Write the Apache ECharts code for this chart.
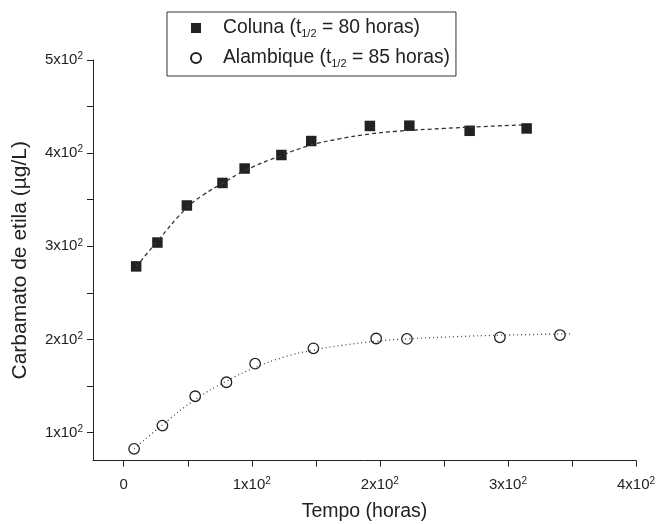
<!DOCTYPE html>
<html>
<head>
<meta charset="utf-8">
<script src="https://cdn.jsdelivr.net/npm/echarts@6/dist/echarts.min.js"></script>
<style>
  html, body { margin: 0; padding: 0; background: #fff; }
  #chart { width: 656px; height: 524px; }
</style>
</head>
<body>
<div id="chart"></div>
<script>
// pontos medidos - Coluna
var colunaX = [9.7, 26.3, 49.3, 77.1, 94.4, 123.1, 146.4, 192.2, 223.0, 270.1, 314.6];
var colunaY = [278.4, 304, 343.8, 368, 383.5, 398, 413, 429.2, 429.5, 424, 426.5];
// pontos medidos - Alambique
var alambX = [8.1, 30.2, 55.8, 80.2, 102.6, 148.1, 197.1, 221.1, 293.7, 340.6];
var alambY = [82.5, 107.5, 139, 154, 174, 190.4, 201, 200.5, 202.2, 204.7];
// curvas ajustadas
var fitColunaX = [9.7, 26, 49, 62, 77, 95, 123, 146, 169, 192, 213, 250, 280, 311];
var fitColunaY = [278, 305, 341, 355, 367.5, 381.5, 397.5, 408.5, 415.5, 420.5, 423.5, 426.5, 428.5, 430.3];
var fitAlambX = [8.1, 30, 56, 80, 103, 125, 148, 170, 197, 221, 260, 294, 348.6];
var fitAlambY = [82.5, 108, 135.5, 155, 170, 181, 188.5, 193.5, 198, 200.5, 203, 204.5, 206];

var xTicks = [0, 50, 100, 150, 200, 250, 300, 350, 400];
var xLabels = [0, 100, 200, 300, 400];
var yTicks = [100, 150, 200, 250, 300, 350, 400, 450, 500];
var yLabels = [100, 200, 300, 400, 500];
var meiaVida = {'Coluna': 80, 'Alambique': 85};

var FONT = 'Liberation Sans, Arial, sans-serif';

function pares(xs, ys) {
	var out = [];
	for (var i = 0; i < xs.length; i++) out.push([xs[i], ys[i]]);
	return out;
}

function fmtPot(v) {
	if (v === 0) return '{n|0}';
	return '{n|' + (v / 100) + 'x10}{sup|2}';
}

var richPot = {
	n: {fontSize: 15, fontFamily: FONT, color: '#222', lineHeight: 17},
	sup: {fontSize: 10, fontFamily: FONT, color: '#222', lineHeight: 10, verticalAlign: 'top'}
};

var myChart = echarts.init(document.getElementById('chart'));
var option = {
	animation: false,
	backgroundColor: '#fff',
	grid: {left: 93, right: 20, top: 60, bottom: 63.5, outerBoundsMode: 'none', containLabel: false},
	legend: {
		orient: 'vertical',
		left: 167, top: 12,
		itemWidth: 10, itemHeight: 10,
		itemGap: 8,
		padding: [5, 6, 7, 23],
		borderColor: '#333', borderWidth: 1,
		backgroundColor: '#fff',
		data: ['Coluna', 'Alambique'],
		formatter: function (name) {
			return '{g|}' + name + ' (t{sub|1/2} = ' + meiaVida[name] + ' horas)';
		},
		textStyle: {
			fontSize: 19.3, fontFamily: FONT, color: '#222', lineHeight: 22,
			rich: {
				g: {width: 17},
				sub: {fontSize: 11, fontFamily: FONT, color: '#222', lineHeight: 6, verticalAlign: 'bottom'}
			}
		}
	},
	xAxis: {
		type: 'value', min: -24, max: 400,
		name: 'Tempo (horas)', nameLocation: 'middle', nameGap: 41,
		nameTextStyle: {fontSize: 19.5, fontFamily: FONT, color: '#222'},
		axisLine: {show: true, onZero: false, lineStyle: {color: '#222', width: 1}},
		axisTick: {show: true, length: 6, customValues: xTicks, lineStyle: {color: '#222'}},
		axisLabel: {customValues: xLabels, margin: 16, formatter: fmtPot, rich: richPot},
		splitLine: {show: false}
	},
	yAxis: {
		type: 'value', min: 70, max: 500,
		name: 'Carbamato de etila (µg/L)', nameLocation: 'middle', nameGap: 62,
		nameTextStyle: {fontSize: 21, fontFamily: FONT, color: '#222'},
		axisLine: {show: true, onZero: false, lineStyle: {color: '#222', width: 1}},
		axisTick: {show: true, length: 6, customValues: yTicks, lineStyle: {color: '#222'}},
		axisLabel: {customValues: yLabels, margin: 10, formatter: fmtPot, rich: richPot},
		splitLine: {show: false}
	},
	series: [
		{
			name: 'ajuste Coluna', type: 'line', data: pares(fitColunaX, fitColunaY),
			showSymbol: false, smooth: 0.5, silent: true,
			lineStyle: {color: '#333', width: 1.3, type: [4, 3]}
		},
		{
			name: 'ajuste Alambique', type: 'line', data: pares(fitAlambX, fitAlambY),
			showSymbol: false, smooth: 0.5, silent: true,
			lineStyle: {color: '#444', width: 1.3, type: [1, 3]}
		},
		{
			name: 'Coluna', type: 'scatter', data: pares(colunaX, colunaY),
			symbol: 'rect', symbolSize: 10.5,
			itemStyle: {color: '#222', opacity: 1}
		},
		{
			name: 'Alambique', type: 'scatter', data: pares(alambX, alambY),
			symbol: 'circle', symbolSize: 10.5,
			itemStyle: {color: '#fff', borderColor: '#222', borderWidth: 1.3, opacity: 1}
		}
	]
};
myChart.setOption(option);
</script>
</body>
</html>
